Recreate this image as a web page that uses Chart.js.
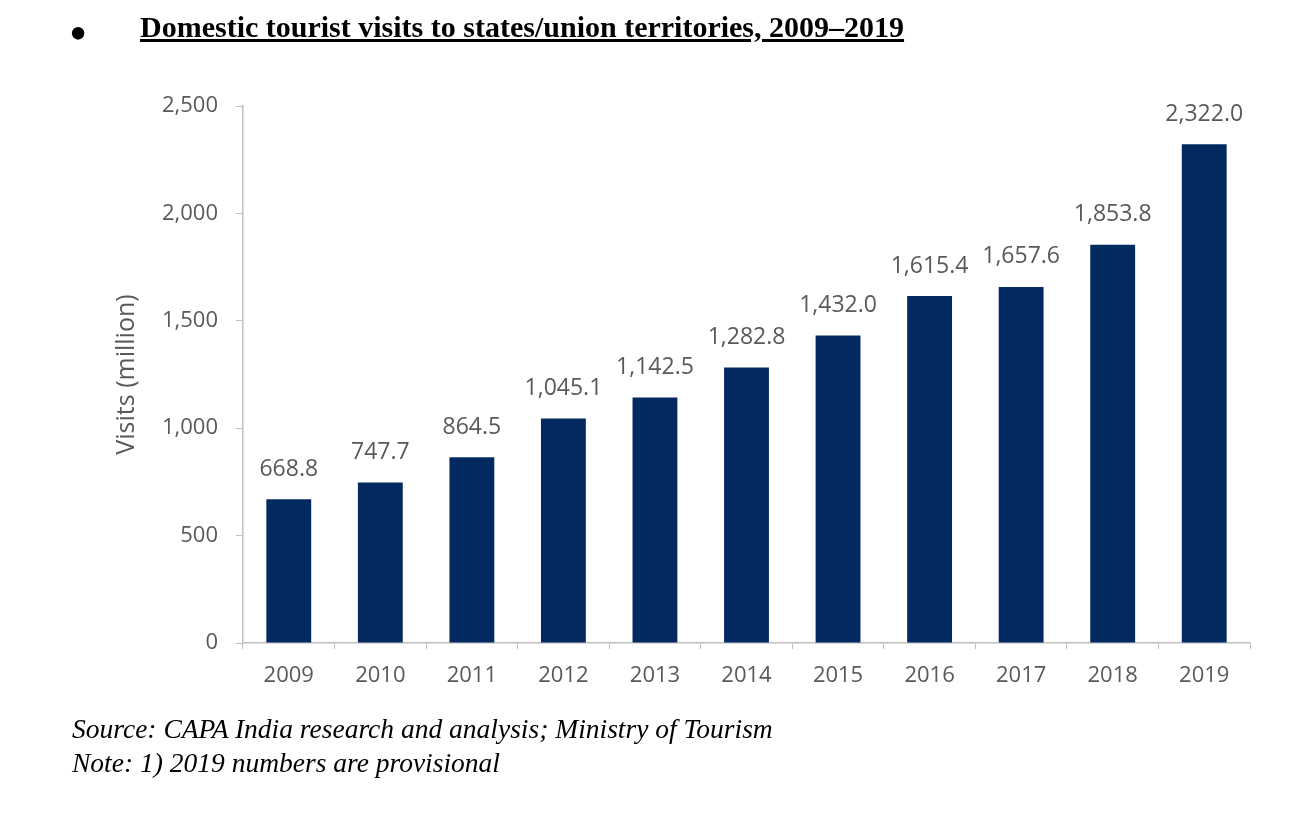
<!DOCTYPE html>
<html>
<head>
<meta charset="utf-8">
<script src="https://cdn.jsdelivr.net/npm/chart.js@4/dist/chart.umd.min.js"></script>
<style>
  html, body { margin: 0; padding: 0; background: #fff; }
  body { width: 1312px; height: 814px; position: relative; overflow: hidden; }
  #wrap { position: absolute; left: 0; top: 0; width: 1312px; height: 814px; }
  .title { position: absolute; top: 10px; left: 140px; font: bold 30px "Liberation Serif", "Times New Roman", serif; text-decoration: underline; color: #000; white-space: nowrap; }
  .bullet { position: absolute; top: 8px; left: 69px; font: 52px/1 "Liberation Serif", serif; color: #000; }
  .note { position: absolute; left: 72px; font: italic 27.5px "Liberation Serif", "Times New Roman", serif; color: #000; white-space: nowrap; }
</style>
</head>
<body>
<div id="wrap"><canvas id="chart" width="1312" height="814"></canvas></div>
<div class="bullet">•</div>
<div class="title">Domestic tourist visits to states/union territories, 2009–2019</div>
<div class="note" style="top:713px">Source: CAPA India research and analysis; Ministry of Tourism</div>
<div class="note" style="top:747px">Note: 1) 2019 numbers are provisional</div>
<script>
  // Chart data
  const years = ['2009', '2010', '2011', '2012', '2013', '2014', '2015', '2016', '2017', '2018', '2019'];
  const visits = [668.8, 747.7, 864.5, 1045.1, 1142.5, 1282.8, 1432.0, 1615.4, 1657.6, 1853.8, 2322.0];
  const yTicks = [0, 500, 1000, 1500, 2000, 2500];

  const labelColor = '#595959';
  const axisColor = '#bfbfbf';
  const barColor = '#032a60';
  const fontFamily = '"Open Sans", "Liberation Sans", sans-serif';

  // Wider text spacing, closer to the original Calibri look
  const spacing = {
    id: 'spacing',
    beforeInit(chart) { chart.ctx.letterSpacing = '1px'; }
  };

  // Draw value labels above bars
  const valueLabels = {
    id: 'valueLabels',
    afterDatasetsDraw(chart) {
      const ctx = chart.ctx;
      const meta = chart.getDatasetMeta(0);
      ctx.save();
      ctx.font = '23px ' + fontFamily;
      ctx.fillStyle = labelColor;
      ctx.textAlign = 'center';
      ctx.textBaseline = 'middle';
      meta.data.forEach((bar, i) => {
        const txt = visits[i].toLocaleString('en-US', { minimumFractionDigits: 1, maximumFractionDigits: 1 });
        ctx.fillText(txt, bar.x, bar.y - 30);
      });
      ctx.restore();
    }
  };

  new Chart(document.getElementById('chart'), {
    type: 'bar',
    data: {
      labels: years,
      datasets: [{
        data: visits,
        backgroundColor: barColor,
        barPercentage: 0.49,
        categoryPercentage: 1.0
      }]
    },
    options: {
      responsive: false,
      animation: false,
      layout: { padding: { left: 100, top: 106, right: 62, bottom: 121 } },
      plugins: {
        legend: { display: false },
        tooltip: { enabled: false }
      },
      scales: {
        x: {
          grid: { drawOnChartArea: false, drawTicks: true, tickLength: 6, color: axisColor },
          border: { color: axisColor, width: 1.5 },
          ticks: { color: labelColor, font: { family: fontFamily, size: 22 }, padding: 14, maxRotation: 0 },
          afterFit(scale) { scale.height = 50; }
        },
        y: {
          min: 0,
          max: 2500,
          afterBuildTicks(scale) { scale.ticks = yTicks.map(v => ({ value: v })); },
          grid: { drawOnChartArea: false, drawTicks: true, tickLength: 7, color: axisColor },
          border: { color: axisColor, width: 1.5 },
          ticks: {
            color: labelColor,
            font: { family: fontFamily, size: 22 },
            padding: 18,
            callback: v => v.toLocaleString('en-US')
          },
          title: {
            display: true,
            text: 'Visits (million)',
            color: labelColor,
            font: { family: fontFamily, size: 25 },
            padding: { top: 12, bottom: 0 }
          },
          afterFit(scale) { scale.width = 143; }
        }
      }
    },
    plugins: [spacing, valueLabels]
  });
</script>
</body>
</html>
